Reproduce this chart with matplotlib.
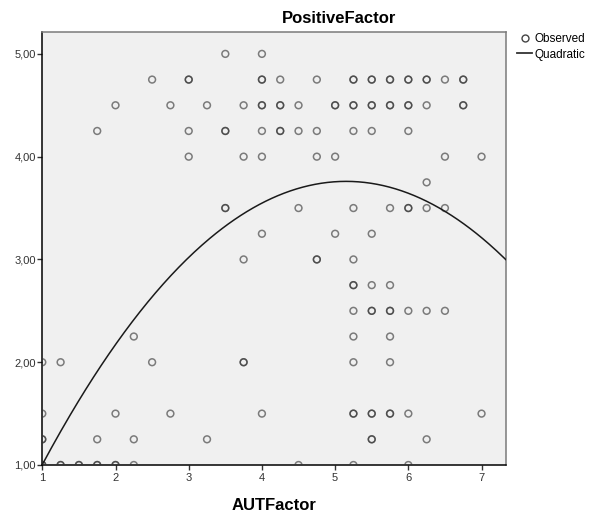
import matplotlib
matplotlib.use('Agg')
import matplotlib.pyplot as plt
from matplotlib.lines import Line2D
import numpy as np

plt.rcParams['font.family'] = ['Liberation Sans', 'DejaVu Sans']

# AUTFactor values for each PositiveFactor level (repeated values = overlapping cases)
aut_at_500 = [3.5, 4.0]
aut_at_475 = [2.5, 3.0, 3.0, 4.0, 4.0, 4.25, 4.75, 5.25, 5.25, 5.5, 5.5, 5.75, 5.75,
              6.0, 6.0, 6.25, 6.25, 6.5, 6.75, 6.75]
aut_at_450 = [2.0, 2.75, 3.25, 3.75, 4.0, 4.0, 4.25, 4.25, 4.5, 5.0, 5.0, 5.25, 5.25,
              5.5, 5.5, 5.75, 5.75, 6.0, 6.0, 6.25, 6.75, 6.75]
aut_at_425 = [1.75, 3.0, 3.5, 3.5, 4.0, 4.25, 4.25, 4.5, 4.75, 5.25, 5.5, 6.0]
aut_at_400 = [3.0, 3.75, 4.0, 4.75, 5.0, 6.5, 7.0]
aut_at_375 = [6.25]
aut_at_350 = [3.5, 3.5, 4.5, 5.25, 5.75, 6.0, 6.0, 6.25, 6.5]
aut_at_325 = [4.0, 5.0, 5.5]
aut_at_300 = [3.75, 4.75, 4.75, 5.25]
aut_at_275 = [5.25, 5.25, 5.5, 5.75]
aut_at_250 = [5.25, 5.5, 5.5, 5.75, 5.75, 6.0, 6.25, 6.5]
aut_at_225 = [2.25, 5.25, 5.75]
aut_at_200 = [1.0, 1.25, 2.5, 3.75, 3.75, 5.25, 5.75]
aut_at_150 = [1.0, 2.0, 2.75, 4.0, 5.25, 5.25, 5.5, 5.5, 5.75, 5.75, 6.0, 7.0]
aut_at_125 = [1.0, 1.0, 1.75, 2.25, 3.25, 5.5, 5.5, 6.25]
aut_at_100 = [1.0, 1.0, 1.25, 1.25, 1.5, 1.5, 1.75, 1.75, 2.0, 2.0, 2.25, 4.5, 5.25, 6.0]

levels = [5.0, 4.75, 4.5, 4.25, 4.0, 3.75, 3.5, 3.25, 3.0, 2.75, 2.5, 2.25, 2.0, 1.5, 1.25, 1.0]
groups = [aut_at_500, aut_at_475, aut_at_450, aut_at_425, aut_at_400, aut_at_375,
          aut_at_350, aut_at_325, aut_at_300, aut_at_275, aut_at_250, aut_at_225,
          aut_at_200, aut_at_150, aut_at_125, aut_at_100]

# quadratic model: y = b0 + b1*x + b2*x^2
b0, b1, b2 = -0.484, 1.648, -0.160

x_ticks = [1, 2, 3, 4, 5, 6, 7]
y_ticks = [1, 2, 3, 4, 5]
y_tick_labels = ['1,00', '2,00', '3,00', '4,00', '5,00']

aut = []
pos = []
for lev, g in zip(levels, groups):
    aut += g
    pos += [lev] * len(g)

W, H = 593, 513
fig = plt.figure(figsize=(W / 100, H / 100), dpi=100)
ax = fig.add_axes([42.3 / W, 1 - 465 / H, (505.7 - 42.3) / W, (465 - 32.3) / H])
ax.set_facecolor('#f0f0f0')

ax.scatter(aut, pos, s=24, facecolors='none', edgecolors=(0.2, 0.2, 0.2, 0.62),
           linewidths=1.1, zorder=3)

xs = np.linspace(1, 7.33, 300)
ax.plot(xs, b0 + b1 * xs + b2 * xs ** 2, color='#1a1a1a', lw=1.1, zorder=4)

ax.set_xlim(1, 7.33)
ax.set_ylim(1, 5.21)
ax.set_xticks(x_ticks)
ax.set_xticklabels([str(t) for t in x_ticks])
ax.set_yticks(y_ticks)
ax.set_yticklabels(y_tick_labels)
ax.tick_params(axis='both', direction='out', length=3.5, width=1, labelsize=8,
               colors='#333333')
ax.tick_params(axis='x', pad=2.5)
ax.tick_params(axis='y', pad=1)

for s in ['left', 'bottom']:
    ax.spines[s].set_color('#000000')
    ax.spines[s].set_linewidth(1.1)
for s in ['top', 'right']:
    ax.spines[s].set_color('#7a7a7a')
    ax.spines[s].set_linewidth(1.1)

fig.text(339 / W, 1 - 19 / H, 'PositiveFactor', ha='center', va='center',
         fontsize=12, fontweight='bold')
fig.text(274 / W, 1 - 505 / H, 'AUTFactor', ha='center', va='center',
         fontsize=12, fontweight='bold')

handles = [Line2D([], [], marker='o', ls='none', markersize=5, markerfacecolor='none',
                  markeredgecolor='#444444', markeredgewidth=1),
           Line2D([], [], color='#333333', lw=1.3)]
ax.legend(handles, ['Observed', 'Quadratic'], loc='upper left',
          bbox_to_anchor=(517 / W, 1 - 33 / H), bbox_transform=fig.transFigure,
          frameon=False, fontsize=8.5, handlelength=1.3, handletextpad=0.15,
          labelspacing=0.3, borderpad=0, borderaxespad=0)

fig.savefig('out.png', dpi=100)
